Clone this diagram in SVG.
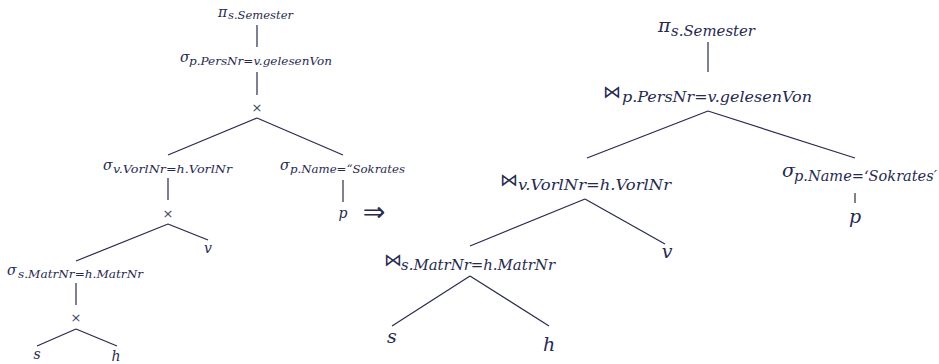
<svg xmlns="http://www.w3.org/2000/svg" width="939" height="364" viewBox="0 0 939 364">
<style>
.t{font-family:"DejaVu Serif","Liberation Serif",serif;font-style:italic;fill:#272a4f}
.lm{font-size:14px}
.ls{font-size:10.5px}
.rm{font-size:19px}
.rs{font-size:14px}
.lf{font-size:14px;text-anchor:middle}
.rf{font-size:19px;text-anchor:middle}
.sym{font-family:"DejaVu Sans",sans-serif;fill:#272a4f}
.x{font-size:13px;text-anchor:middle;fill:#44476a}
.bt{font-size:18px}
.e line{stroke:#272a4f;stroke-width:1.2}
</style>
<rect width="939" height="364" fill="#ffffff"/>
<g id="left-tree">
<g id="L1"><text class="t lm" x="218" y="17">π</text><text class="t ls" x="228" y="19" textLength="65" lengthAdjust="spacingAndGlyphs">s.Semester</text></g>
<g id="L2"><text class="t lm" x="180" y="62">σ</text><text class="t ls" x="189" y="65" textLength="143" lengthAdjust="spacingAndGlyphs">p.PersNr=v.gelesenVon</text></g>
<g id="L3"><text class="sym x" x="257" y="112">×</text></g>
<g id="L4"><text class="t lm" x="103" y="170">σ</text><text class="t ls" x="113" y="173" textLength="119" lengthAdjust="spacingAndGlyphs">v.VorlNr=h.VorlNr</text></g>
<g id="L5"><text class="t lm" x="280" y="170">σ</text><text class="t ls" x="290" y="173" textLength="115" lengthAdjust="spacingAndGlyphs">p.Name=“Sokrates</text></g>
<g id="L6"><text class="sym x" x="168" y="218">×</text></g>
<g id="L7"><text class="t lf" x="343" y="218">p</text></g>
<g id="L8"><text class="t lf" x="208" y="253">v</text></g>
<g id="L9"><text class="t lm" x="7" y="275">σ</text><text class="t ls" x="18" y="278" textLength="125" lengthAdjust="spacingAndGlyphs">s.MatrNr=h.MatrNr</text></g>
<g id="L10"><text class="sym x" x="76" y="322">×</text></g>
<g id="L11"><text class="t lf" x="37" y="359">s</text></g>
<g id="L12"><text class="t lf" x="116" y="361">h</text></g>
</g>
<g id="arrow"><text class="sym" x="374" y="221" font-size="27" text-anchor="middle">⇒</text></g>
<g id="right-tree">
<g id="R1"><text class="t rm" x="658" y="32">π</text><text class="t rs" x="671" y="36" textLength="84" lengthAdjust="spacingAndGlyphs">s.Semester</text></g>
<g id="R2"><text class="sym bt" x="603" y="98">⋈</text><text class="t rs" x="622" y="102" textLength="190" lengthAdjust="spacingAndGlyphs">p.PersNr=v.gelesenVon</text></g>
<g id="R3"><text class="sym bt" x="500" y="186">⋈</text><text class="t rs" x="518" y="190" textLength="153" lengthAdjust="spacingAndGlyphs">v.VorlNr=h.VorlNr</text></g>
<g id="R4"><text class="t rm" x="782" y="177">σ</text><text class="t rs" x="794" y="181" textLength="143" lengthAdjust="spacingAndGlyphs">p.Name=‘Sokrates′</text></g>
<g id="R5"><text class="t rf" x="855" y="223">p</text></g>
<g id="R6"><text class="t rf" x="667" y="258">v</text></g>
<g id="R7"><text class="sym bt" x="384" y="266">⋈</text><text class="t rs" x="401" y="270" textLength="154" lengthAdjust="spacingAndGlyphs">s.MatrNr=h.MatrNr</text></g>
<g id="R8"><text class="t rf" x="392" y="343">s</text></g>
<g id="R9"><text class="t rf" x="549" y="351">h</text></g>
</g>
<g id="connectors" class="e">
<line x1="257" y1="25" x2="257" y2="47"/>
<line x1="257" y1="72" x2="257" y2="95"/>
<line x1="257" y1="118" x2="168" y2="155"/>
<line x1="257" y1="118" x2="343" y2="155"/>
<line x1="168" y1="178" x2="168" y2="200"/>
<line x1="343" y1="180" x2="343" y2="202"/>
<line x1="168" y1="224" x2="76" y2="261"/>
<line x1="168" y1="224" x2="208" y2="240"/>
<line x1="76" y1="283" x2="76" y2="305"/>
<line x1="76" y1="329" x2="37" y2="346"/>
<line x1="76" y1="329" x2="117" y2="346"/>
<line x1="708" y1="42" x2="708" y2="72"/>
<line x1="708" y1="111" x2="587" y2="158"/>
<line x1="708" y1="111" x2="855" y2="158"/>
<line x1="855" y1="193" x2="855" y2="203"/>
<line x1="585" y1="199" x2="470" y2="246"/>
<line x1="585" y1="199" x2="665" y2="244"/>
<line x1="470" y1="276" x2="392" y2="326"/>
<line x1="470" y1="276" x2="549" y2="326"/>
</g>
</svg>
